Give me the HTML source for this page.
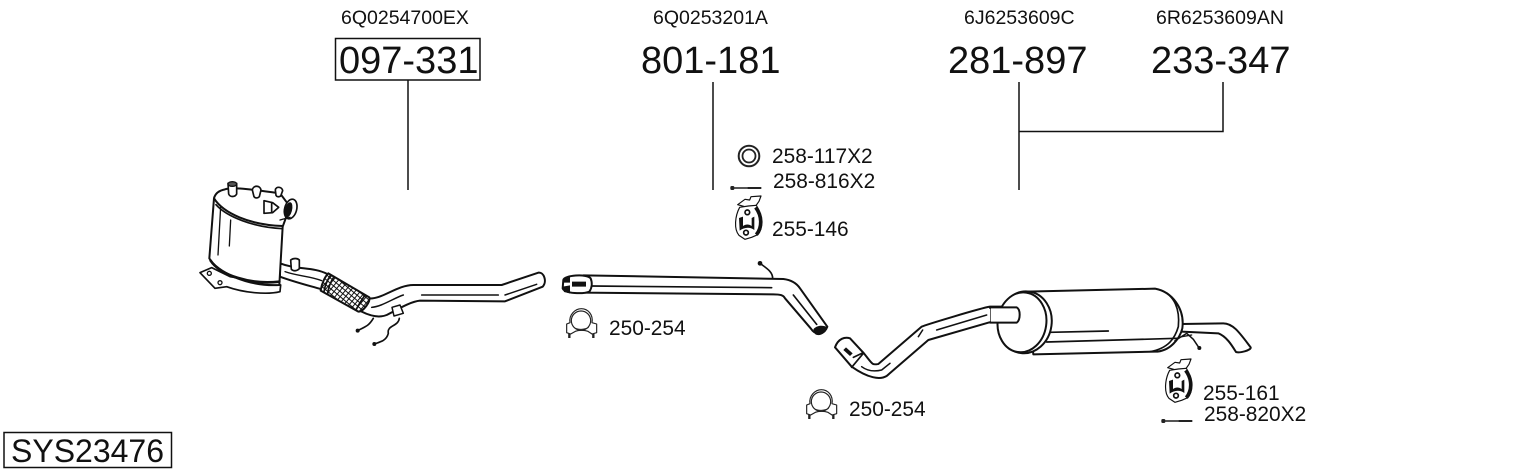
<!DOCTYPE html>
<html>
<head>
<meta charset="utf-8">
<style>
html,body{margin:0;padding:0;background:#fff}
svg{display:block}
text{font-family:"Liberation Sans",sans-serif;fill:#111}
.big{font-size:38px}
.top{font-size:19.500px}
.lab{font-size:20.900px}
.p{fill:#fff;stroke:#111;stroke-linejoin:round;stroke-linecap:round}
.l{fill:none;stroke:#111;stroke-linecap:round;stroke-linejoin:round}
</style>
</head>
<body>
<svg width="1530" height="474" viewBox="0 0 1530 474" xmlns="http://www.w3.org/2000/svg">
<defs>
<pattern id="mesh" width="12" height="12" patternUnits="userSpaceOnUse" patternTransform="rotate(40)">
<rect width="12" height="12" fill="#fff"/>
<path d="M0 0H12M0 0V12" stroke="#111" stroke-width="6"/>
</pattern>
<g id="clamp">
<path d="M10,76 V90 M82,76 V90" stroke="#222" stroke-width="7"/>
<path d="M2,48 L12,44 C8,20 28,2 46,2 C66,2 82,20 78,44 L92,48 V74 L78,78 L66,70 C55,66 38,66 28,70 L14,78 L2,74 Z" fill="#fff" stroke="#222" stroke-width="3.500" stroke-linejoin="round"/>
<circle cx="45" cy="38" r="29" fill="#fff" stroke="#222" stroke-width="3.500"/>
<path d="M24,58 C34,66 56,66 68,58" fill="none" stroke="#222" stroke-width="3"/>
</g>
<g id="hanger">
<path d="M8,26 L30,10 L44,12 L48,2 L78,0 L72,16 L62,30 L30,32 Z" fill="#fff" stroke="#111" stroke-width="3.500" stroke-linejoin="round"/>
<path d="M14,34 C0,60 -4,100 12,118 L30,130 L50,124 L68,116 C84,100 84,60 64,28 L40,30 Z" fill="#fff" stroke="#111" stroke-width="3.500" stroke-linejoin="round"/>
<path d="M62,34 C82,60 82,95 64,116" fill="none" stroke="#111" stroke-width="11"/>
<path d="M12,66 L24,62 L24,90 C32,84 42,84 50,90 L50,66 L58,62 L58,102 C44,92 28,94 14,104 Z" fill="#111"/>
<circle cx="37" cy="49" r="7" fill="#fff" stroke="#111" stroke-width="5"/>
<circle cx="33" cy="110" r="7" fill="#fff" stroke="#111" stroke-width="5"/>
</g>
<g id="bolt">
<rect x="1" y="-6" width="12" height="12" rx="4" fill="#222"/>
<path d="M12,0 H52" stroke="#333" stroke-width="5"/>
<path d="M52,0 H94" stroke="#222" stroke-width="6"/>
</g>
</defs>

<rect width="1530" height="474" fill="#fff"/>

<!-- top labels -->
<text class="top" x="341" y="24">6Q0254700EX</text>
<text class="top" x="653" y="24">6Q0253201A</text>
<text class="top" x="964" y="24">6J6253609C</text>
<text class="top" x="1156" y="24">6R6253609AN</text>

<rect x="335.500" y="38.500" width="144.500" height="41.500" fill="#fff" stroke="#111" stroke-width="1.500"/>
<text class="big" x="339" y="73">097-331</text>
<text class="big" x="641" y="73">801-181</text>
<text class="big" x="948" y="73">281-897</text>
<text class="big" x="1151" y="73">233-347</text>

<!-- leaders -->
<g stroke="#111" stroke-width="1.500" fill="none">
<path d="M408,80V190"/>
<path d="M713,82V190"/>
<path d="M1019,82V190"/>
<path d="M1019,131.500H1223V82"/>
</g>

<!-- small labels -->
<text class="lab" x="772" y="163">258-117X2</text>
<text class="lab" x="773" y="188">258-816X2</text>
<text class="lab" x="772" y="236">255-146</text>
<text class="lab" x="609" y="335">250-254</text>
<text class="lab" x="849" y="416">250-254</text>
<text class="lab" x="1203" y="400">255-161</text>
<text class="lab" x="1204" y="421">258-820X2</text>

<!-- SYS box -->
<rect x="4" y="432.500" width="167.500" height="35" fill="#fff" stroke="#111" stroke-width="1.500"/>
<text x="11" y="462" style="font-size:32px">SYS23476</text>

<!-- DPF + front pipe -->
<g transform="translate(190,170) scale(.33333)">
<!-- wires -->
<path class="l" stroke-width="5" d="M550,445 C535,470 525,470 503,482"/>
<path class="l" stroke-width="5" d="M628,445 C625,470 590,465 595,490 C590,510 575,515 553,522"/>
<circle cx="503" cy="482" r="6" fill="#111"/><circle cx="553" cy="522" r="6" fill="#111"/>
<!-- outlet pipe -->
<path class="p" stroke-width="6" d="M535,385 C575,390 620,345 670,345 L935,345 L1045,308 C1062,305 1072,335 1058,350 L945,394 L690,392 C660,395 620,420 590,435 C565,445 535,435 515,425 Z"/>
<path class="l" stroke-width="4.500" d="M695,375 H925 M945,375 L1040,343 M545,412 C575,410 610,385 640,375"/>
<path class="p" stroke-width="4.500" d="M606,412 L630,405 L640,430 L612,438 Z"/>
<!-- inlet pipe -->
<path class="p" stroke-width="6" d="M270,280 C320,300 370,290 412,312 L395,358 C350,345 310,335 270,320 Z"/>
<path class="l" stroke-width="4" d="M285,305 C320,318 360,318 395,332"/>
<path class="p" stroke-width="5" d="M302,270 C310,264 322,264 328,270 L328,296 C320,304 310,304 304,298 Z"/>
<path class="p" stroke-width="6" d="M415,310 L538,382 C542,395 520,425 505,425 L392,362 C395,340 405,320 415,310 Z" style="fill:url(#mesh)"/>
<path class="l" stroke-width="5" d="M422,315 C412,330 405,345 402,365 M432,320 C422,335 415,350 413,372 M525,375 C515,390 505,405 498,420"/>
<!-- flange -->
<path class="p" stroke-width="5" d="M30,308 L65,293 L120,320 L272,345 L270,365 C230,375 160,368 110,350 L75,355 Z"/>
<circle cx="58" cy="310" r="6" fill="none" stroke="#111" stroke-width="4"/><circle cx="90" cy="338" r="6" fill="none" stroke="#111" stroke-width="4"/>
<!-- body -->
<path class="p" stroke-width="6" d="M72,85 L58,265 C80,305 170,350 268,345 L278,170 L300,110 L270,70 C200,60 130,50 105,58 C85,62 75,72 72,85 Z"/>
<path class="l" stroke-width="8" d="M62,272 C90,315 180,345 268,335"/>
<path class="l" stroke-width="6" d="M72,85 C100,130 180,165 278,168"/>
<path class="l" stroke-width="5" d="M78,104 C110,140 190,172 278,176"/>
<path class="l" stroke-width="4" d="M92,110 L84,255"/>
<path class="l" stroke-width="4" d="M122,150 L118,228"/>
<!-- nozzles -->
<path class="p" stroke-width="5" d="M114,40 H140 L140,72 C135,82 120,82 116,72 Z"/>
<ellipse cx="127" cy="42" rx="13" ry="7" fill="#555" stroke="#111" stroke-width="4"/>
<path class="p" stroke-width="5" d="M187,60 C190,45 210,45 213,60 L208,80 C202,86 194,84 192,80 Z"/>
<path class="p" stroke-width="5" d="M256,60 C258,48 276,50 278,62 L272,78 C266,82 260,80 258,76 Z"/>
<path class="p" stroke-width="5" d="M222,92 L248,98 L266,112 L248,128 L222,130 Z"/>
<path class="l" stroke-width="5" d="M245,98 L245,128"/>
<ellipse cx="302" cy="117" rx="18" ry="30" transform="rotate(15 302 117)" fill="#fff" stroke="#111" stroke-width="5"/>
<ellipse cx="295" cy="120" rx="11" ry="24" transform="rotate(15 295 120)" fill="#111"/>
<path class="l" stroke-width="4" d="M270,150 C285,145 290,145 300,142"/>
</g>

<!-- Middle pipe -->
<g transform="translate(550,130) scale(.33333)">
<path class="l" stroke-width="5" d="M668,445 C668,425 650,415 630,400"/>
<circle cx="630" cy="400" r="7" fill="#111"/>
<path class="p" stroke-width="6" d="M100,436 L700,447 C725,450 740,460 750,475 L832,590 C825,610 800,622 782,595 L705,505 C700,495 690,493 670,493 L100,488 Z"/>
<path class="l" stroke-width="5" d="M125,468 L665,473 M730,495 L800,583"/>
<path d="M790,598 C800,585 820,585 832,592 C830,608 808,622 795,612 Z" fill="#111"/>
<path class="p" stroke-width="6" d="M40,450 C42,436 110,430 122,445 C128,460 125,475 118,485 C100,492 45,492 38,475 Z"/>
<path d="M38,448 L60,438 L60,458 L40,458 Z M38,470 L60,466 L60,490 L42,486 Z M66,455 H108 V470 H66 Z" fill="#111"/>
</g>

<!-- Rear pipe + muffler -->
<g transform="translate(800,270) scale(.33333)">
<path class="p" stroke-width="6" d="M105,232 C115,205 135,200 150,205 L190,248 C220,285 215,285 235,282 L365,170 C375,165 540,115 570,110 L655,110 C665,125 660,150 650,155 L575,155 L385,210 L260,318 C240,330 205,325 155,290 Z"/>
<path class="l" stroke-width="5" d="M160,262 L190,248 M155,292 L190,250"/>
<path class="l" stroke-width="4.500" d="M185,290 C205,305 225,305 245,300 L270,280 M355,200 L368,180 M410,180 L560,135 M590,132 L650,132"/>
<path d="M130,240 L150,258 L158,250 L138,232 Z" fill="#111"/>
</g>

<g transform="translate(990,270) scale(.33333)">
<!-- tail pipe -->
<path class="p" stroke-width="6" d="M575,162 L700,160 C730,160 750,190 782,232 C785,240 750,250 738,246 C725,225 710,200 685,190 L575,185 Z"/>
<!-- body -->
<path class="p" stroke-width="6" d="M110,65 L495,56 C545,65 585,115 577,175 C570,205 540,245 495,245 L130,253 Z"/>
<path class="l" stroke-width="5" d="M510,60 C555,75 570,120 565,170 C555,205 535,235 480,245"/>
<path class="l" stroke-width="5" d="M180,187 L355,183"/>
<path class="l" stroke-width="5" d="M170,216 L560,205"/>
<!-- end discs -->
<ellipse cx="105" cy="157" rx="80" ry="93" transform="rotate(8 105 157)" fill="#fff" stroke="#111" stroke-width="6"/>
<ellipse cx="96" cy="157" rx="73" ry="90" transform="rotate(8 96 157)" fill="#fff" stroke="#111" stroke-width="6"/>
<!-- pipe overlap -->
<path d="M0,112 H80 C92,118 92,150 80,158 H0 Z" fill="#fff" stroke="#111" stroke-width="6" stroke-linejoin="round"/>
<path d="M-5,116 H1 V154 H-5 Z" fill="#fff"/>
<!-- wire -->
<path class="l" stroke-width="4.500" d="M555,212 L590,190 L610,208 L628,235"/>
<path class="l" stroke-width="4" d="M575,200 L605,195"/>
<circle cx="628" cy="234" r="6" fill="#111"/>
</g>

<!-- Small parts -->
<g>
<circle cx="749" cy="156" r="10.300" fill="#fff" stroke="#222" stroke-width="2"/>
<circle cx="749" cy="156" r="6.500" fill="#fff" stroke="#222" stroke-width="1.800"/>
<use href="#bolt" transform="translate(730,188) scale(.33333)"/>
<use href="#bolt" transform="translate(1161,421) scale(.33333)"/>
<use href="#clamp" transform="translate(566,308) scale(.33333)"/>
<use href="#clamp" transform="translate(806,389) scale(.33333)"/>
<use href="#hanger" transform="translate(735,196) scale(.33333)"/>
<use href="#hanger" transform="translate(1165,359) scale(.33333)"/>
</g>
</svg>
</body>
</html>
